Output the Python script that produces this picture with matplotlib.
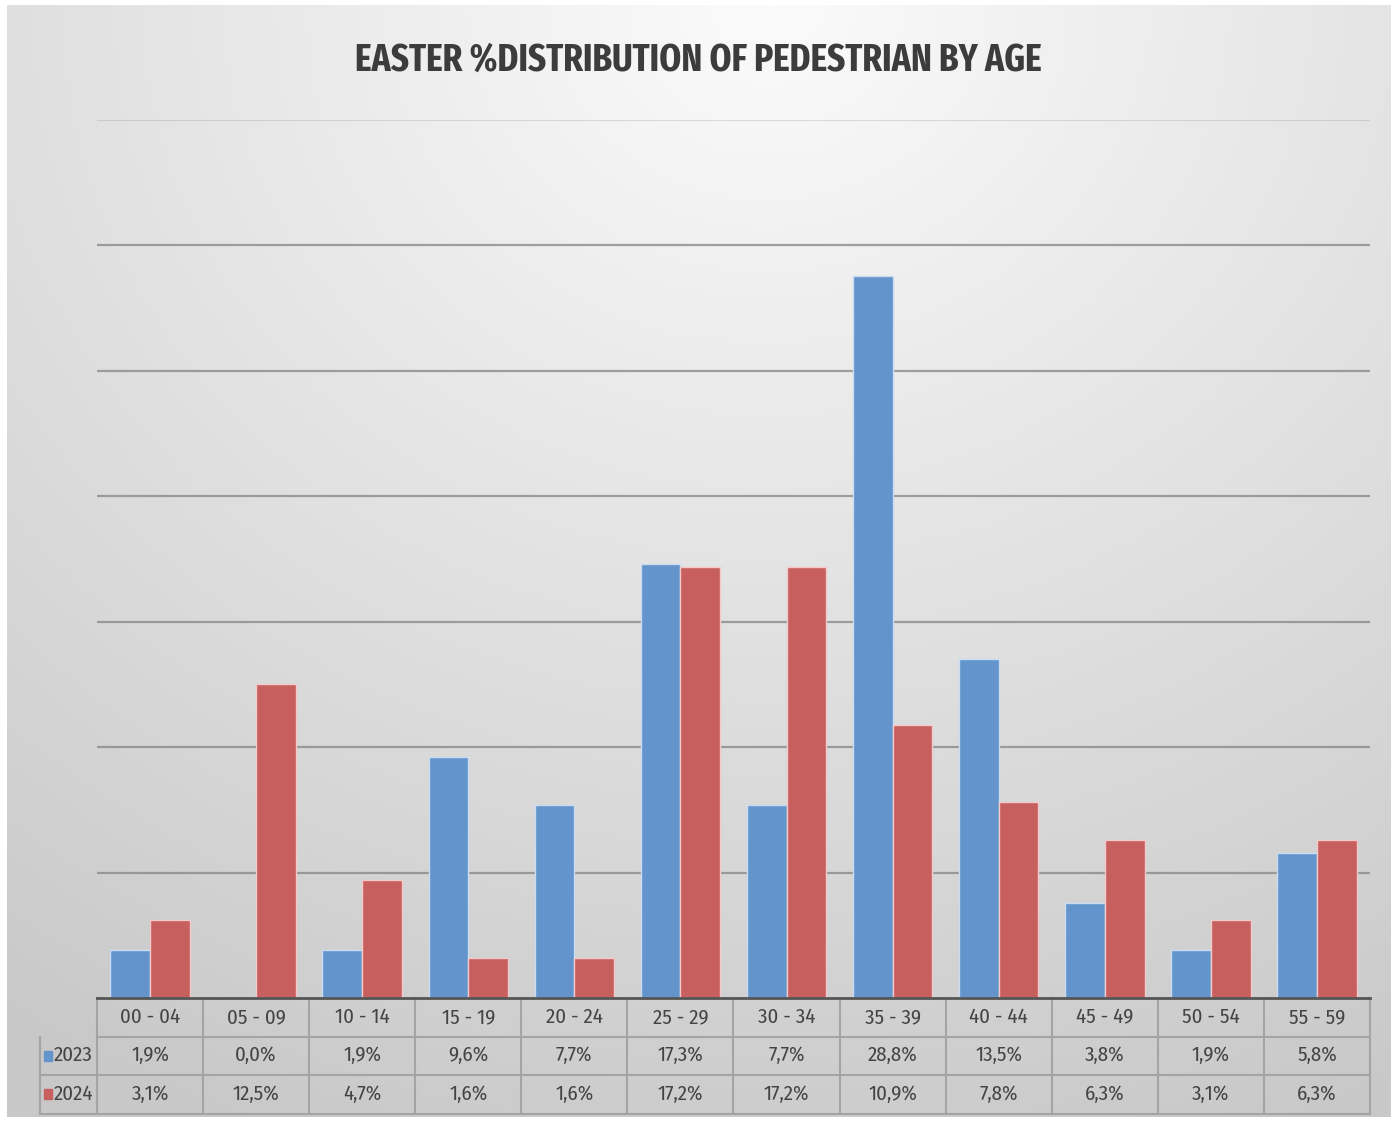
import numpy as np
import matplotlib.pyplot as plt
from matplotlib.patches import Rectangle

ages = ['00 - 04', '05 - 09', '10 - 14', '15 - 19', '20 - 24', '25 - 29',
        '30 - 34', '35 - 39', '40 - 44', '45 - 49', '50 - 54', '55 - 59']
years = ['2023', '2024']
pct_2023 = [1.9, 0.0, 1.9, 9.6, 7.7, 17.3, 7.7, 28.8, 13.5, 3.8, 1.9, 5.8]
pct_2024 = [3.1, 12.5, 4.7, 1.6, 1.6, 17.2, 17.2, 10.9, 7.8, 6.3, 3.1, 6.3]
labels_2023 = ['1,9%', '0,0%', '1,9%', '9,6%', '7,7%', '17,3%', '7,7%', '28,8%', '13,5%', '3,8%', '1,9%', '5,8%']
labels_2024 = ['3,1%', '12,5%', '4,7%', '1,6%', '1,6%', '17,2%', '17,2%', '10,9%', '7,8%', '6,3%', '3,1%', '6,3%']

blue = '#6394cb'
red = '#c75f5f'

plt.rcParams['font.family'] = ['Fira Sans Condensed', 'DejaVu Sans']

fig = plt.figure(figsize=(13.96, 11.22), dpi=100)
W, H = 1396, 1122

# gradient backdrop, light at top centre
bg = fig.add_axes([7 / W, 5 / H, 1384 / W, 1112 / H])
yy, xx = np.mgrid[0:1:300j, 0:1:300j]
d = np.sqrt(((xx - 0.55) * 1.1) ** 2 + (yy * 1.0) ** 2)
shade = 0.985 - 0.2 * np.clip(d, 0, 1.1) / 1.1
bg.imshow(np.dstack([shade] * 3), extent=[0, 1, 0, 1], origin='upper', aspect='auto')
bg.axis('off')

ax = fig.add_axes([97 / W, 1 - 998 / H, 1273 / W, 878 / H])
ax.set_facecolor('none')
x = np.arange(len(ages))
w = 0.375
ax.bar(x - w / 2, pct_2023, w, color=blue, edgecolor='#c9dcf2', linewidth=1, zorder=3)
ax.bar(x + w / 2, pct_2024, w, color=red, edgecolor='#f3c9c9', linewidth=1, zorder=3)
ax.set_xlim(-0.5, len(ages) - 0.5)
ax.set_ylim(0, 35)
ax.set_yticks(np.arange(5, 36, 5))
ax.grid(axis='y', color='#8a8a8a', linewidth=1.6, alpha=0.8)
ax.yaxis.get_gridlines()[-1].set_alpha(0.25)
ax.tick_params(left=False, bottom=False, labelleft=False, labelbottom=False)
for s in ['top', 'right', 'left']:
    ax.spines[s].set_visible(False)
ax.spines['bottom'].set_color('#555555')
ax.spines['bottom'].set_linewidth(2)
ax.spines['bottom'].set_zorder(4)

fig.text(0.5, 1 - 60 / H, 'EASTER %DISTRIBUTION OF PEDESTRIAN BY AGE', ha='center', va='center',
         fontsize=27.5, fontweight='bold', color='#3c3c3c',
         family=['Fira Sans Extra Condensed', 'DejaVu Sans'])

# data table beneath the plot
tr = ax.get_xaxis_transform()
rh = 38.5 / 878
lc = '#a4a4a4'
tx = -1.04
for i in range(1, 4):
    x0 = -0.5 if i == 1 else tx
    ax.plot([x0, 11.5], [-i * rh, -i * rh], transform=tr, color=lc, lw=1.5, clip_on=False)
for k in range(13):
    ax.plot([k - 0.5, k - 0.5], [0, -3 * rh], transform=tr, color=lc, lw=1.5, clip_on=False)
ax.plot([tx, tx], [-rh, -3 * rh], transform=tr, color=lc, lw=1.5, clip_on=False)

fs = 15
kw = dict(transform=tr, va='center', fontsize=fs, color='#444444')
for k in range(len(ages)):
    ax.text(k, -0.5 * rh, ages[k], ha='center', **kw)
    ax.text(k, -1.5 * rh, labels_2023[k], ha='center', **kw)
    ax.text(k, -2.5 * rh, labels_2024[k], ha='center', **kw)

for r, (yr, c) in enumerate(zip(years, [blue, red])):
    yc = -(1.5 + r) * rh
    ax.add_patch(Rectangle((tx + 0.045, yc - 0.0055), 0.07, 0.011, transform=tr, color=c, clip_on=False))
    ax.text(tx + 0.135, yc, yr, ha='left', **kw)

fig.savefig('out.png', dpi=100)
